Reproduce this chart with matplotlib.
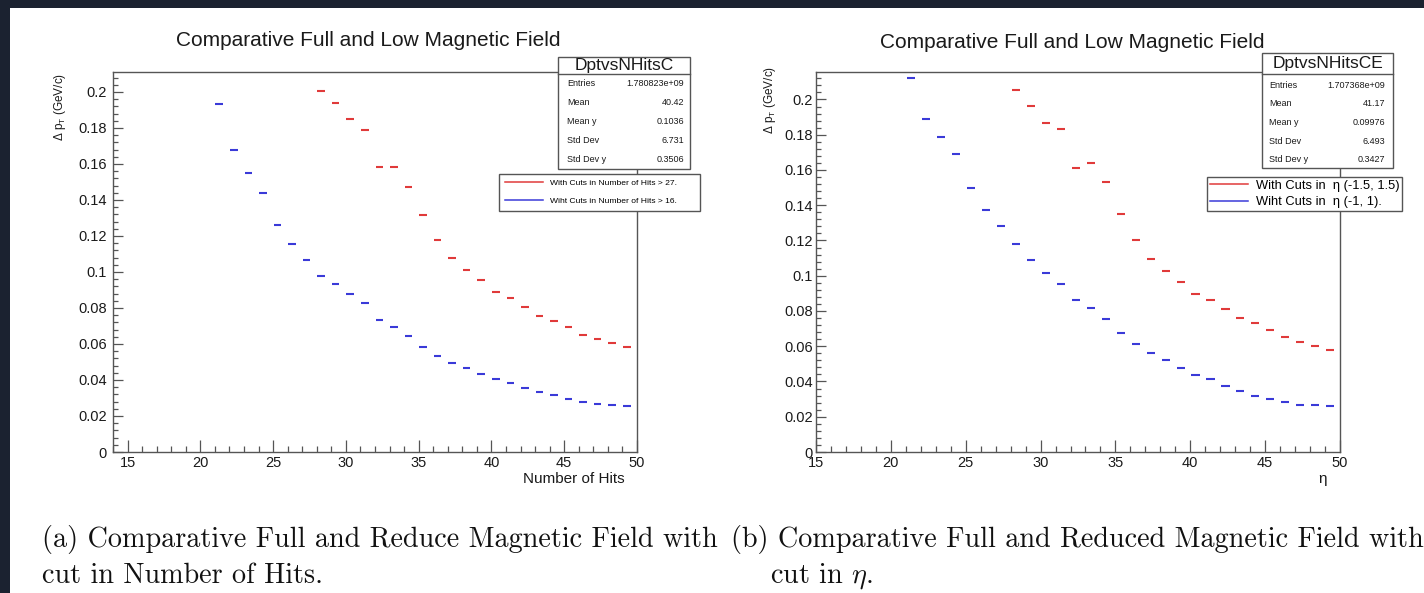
import matplotlib
matplotlib.use("Agg")
import matplotlib.pyplot as plt
from matplotlib.ticker import MultipleLocator, FormatStrFormatter
from matplotlib.patches import Rectangle
from matplotlib.lines import Line2D

# ---------------- data ----------------
# left panel: bin centres (number of hits) and mean delta pT
left_red_x = [28.3, 29.3, 30.3, 31.3, 32.3, 33.3, 34.3, 35.3, 36.3, 37.3, 38.3,
              39.3, 40.3, 41.3, 42.3, 43.3, 44.3, 45.3, 46.3, 47.3, 48.3, 49.3]
left_red_y = [0.2008, 0.1941, 0.1850, 0.1789, 0.1584, 0.1584, 0.1471, 0.1315,
              0.1180, 0.1078, 0.1011, 0.0956, 0.0891, 0.0858, 0.0806, 0.0758,
              0.0726, 0.0693, 0.0652, 0.0630, 0.0606, 0.0582]
left_blue_x = [21.3, 22.3, 23.3, 24.3, 25.3, 26.3, 27.3, 28.3, 29.3, 30.3,
               31.3, 32.3, 33.3, 34.3, 35.3, 36.3, 37.3, 38.3, 39.3, 40.3,
               41.3, 42.3, 43.3, 44.3, 45.3, 46.3, 47.3, 48.3, 49.3]
left_blue_y = [0.1935, 0.1676, 0.1548, 0.1441, 0.1259, 0.1156, 0.1067, 0.0980,
               0.0932, 0.0878, 0.0828, 0.0734, 0.0693, 0.0643, 0.0582, 0.0534,
               0.0497, 0.0465, 0.0435, 0.0406, 0.0384, 0.0358, 0.0334, 0.0317,
               0.0297, 0.0278, 0.0269, 0.0261, 0.0258]

# right panel
right_red_x = [28.35, 29.35, 30.35, 31.35, 32.35, 33.35, 34.35, 35.35, 36.35,
               37.35, 38.35, 39.35, 40.35, 41.35, 42.35, 43.35, 44.35, 45.35,
               46.35, 47.35, 48.35, 49.35]
right_red_y = [0.2056, 0.1963, 0.1864, 0.1832, 0.1610, 0.1640, 0.1530, 0.1350,
               0.1202, 0.1094, 0.1028, 0.0965, 0.0899, 0.0863, 0.0814, 0.0762,
               0.0730, 0.0690, 0.0652, 0.0624, 0.0601, 0.0578]
right_blue_x = [21.35, 22.35, 23.35, 24.35, 25.35, 26.35, 27.35, 28.35, 29.35,
                30.35, 31.35, 32.35, 33.35, 34.35, 35.35, 36.35, 37.35, 38.35,
                39.35, 40.35, 41.35, 42.35, 43.35, 44.35, 45.35, 46.35, 47.35,
                48.35, 49.35]
right_blue_y = [0.2124, 0.1889, 0.1790, 0.1692, 0.1496, 0.1371, 0.1282, 0.1178,
                0.1090, 0.1013, 0.0954, 0.0861, 0.0819, 0.0757, 0.0677, 0.0615,
                0.0561, 0.0520, 0.0476, 0.0438, 0.0412, 0.0374, 0.0347, 0.0319,
                0.0300, 0.0281, 0.0269, 0.0266, 0.0262]

left_labels = ["With Cuts in Number of Hits > 27.", "Wiht Cuts in Number of Hits > 16."]
right_labels = ["With Cuts in  \u03b7 (-1.5, 1.5)", "Wiht Cuts in  \u03b7 (-1, 1)."]

stat_names = ["Entries", "Mean", "Mean y", "Std Dev", "Std Dev y"]
left_stats = ["1.780823e+09", "40.42", "0.1036", "6.731", "0.3506"]
right_stats = ["1.707368e+09", "41.17", "0.09976", "6.493", "0.3427"]
left_hist_name = "DptvsNHitsC"
right_hist_name = "DptvsNHitsCE"

title_text = "Comparative Full and Low Magnetic Field"
ylabel_text = "\u0394 p$_\\mathregular{T}$ (GeV/c)"
left_xlabel = "Number of Hits"
right_xlabel = "\u03b7"
caption_a = ["(a) Comparative Full and Reduce Magnetic Field with", "cut in Number of Hits."]
caption_b = ["(b) Comparative Full and Reduced Magnetic Field with", "cut in $\\eta$."]

# ---------------- style ----------------
plt.rcParams['font.family'] = ['Liberation Sans', 'DejaVu Sans']
plt.rcParams['mathtext.fontset'] = 'custom'
plt.rcParams['mathtext.rm'] = 'Liberation Sans'
plt.rcParams['mathtext.it'] = 'Liberation Sans'

W, H = 1424, 593
RED = '#e03a3a'
BLUE = '#3a3ad8'
FRAME = '#555555'
CAP_SIZE = 20.3

def fx(px):
    return px / W

def fy(py):
    return 1 - py / H

fig = plt.figure(figsize=(W / 100, H / 100), dpi=100)
fig.patch.set_facecolor('white')

# dark screenshot border
fig.patches.append(Rectangle((0, fy(8)), 1, 8 / H, transform=fig.transFigure,
                             facecolor='#1b2230', edgecolor='none', zorder=0))
fig.patches.append(Rectangle((0, 0), 10 / W, 1, transform=fig.transFigure,
                             facecolor='#1b2230', edgecolor='none', zorder=0))


def setup_axes(ax, xlim, ylim, ypad):
    ax.set_xlim(*xlim)
    ax.set_ylim(*ylim)
    ax.xaxis.set_major_locator(MultipleLocator(5))
    ax.xaxis.set_minor_locator(MultipleLocator(1))
    ax.yaxis.set_major_locator(MultipleLocator(0.02))
    ax.yaxis.set_minor_locator(MultipleLocator(0.004))
    ax.yaxis.set_major_formatter(FormatStrFormatter('%g'))
    ax.tick_params(axis='both', which='both', direction='in', colors=FRAME,
                   labelcolor='#1a1a1a', top=False, right=False, width=0.9)
    ax.tick_params(axis='y', which='major', length=7.5, pad=ypad, labelsize=10.5)
    ax.tick_params(axis='y', which='minor', length=3.8)
    ax.tick_params(axis='x', which='major', length=8.5, pad=3, labelsize=10.5)
    ax.tick_params(axis='x', which='minor', length=4.3)
    for s in ax.spines.values():
        s.set_color(FRAME)
        s.set_linewidth(1.0)


def draw_stats(x0, y0, x1, y1, yhead, name, values, row0, step, xname, xval):
    fig.patches.append(Rectangle((fx(x0), fy(y1)), (x1 - x0) / W, (y1 - y0) / H,
                                 transform=fig.transFigure, facecolor='white',
                                 edgecolor=FRAME, linewidth=1.0, zorder=5))
    fig.lines.append(Line2D([fx(x0), fx(x1)], [fy(yhead), fy(yhead)],
                            transform=fig.transFigure, color=FRAME, lw=1.0, zorder=6))
    fig.text(fx((x0 + x1) / 2), fy((y0 + yhead) / 2), name, ha='center', va='center',
             fontsize=12.5, color='#1a1a1a', zorder=7)
    for i, (n, v) in enumerate(zip(stat_names, values)):
        yy = fy(row0 + i * step)
        fig.text(fx(xname), yy, n, ha='left', va='center', fontsize=6.5,
                 color='#1a1a1a', zorder=7)
        fig.text(fx(xval), yy, v, ha='right', va='center', fontsize=6.5,
                 color='#1a1a1a', zorder=7)


# ---------------- left panel ----------------
axL = fig.add_axes([fx(113), fy(452), (637 - 113) / W, (452 - 72) / H])
setup_axes(axL, (14, 50), (0, 0.2111), 4.3)
axL.errorbar(left_red_x, left_red_y, xerr=0.26, fmt='none', ecolor=RED,
             elinewidth=1.5, capsize=0)
axL.errorbar(left_blue_x, left_blue_y, xerr=0.26, fmt='none', ecolor=BLUE,
             elinewidth=1.5, capsize=0)
handlesL = [Line2D([], [], color=RED, lw=1.1), Line2D([], [], color=BLUE, lw=1.1)]
legL = axL.legend(handlesL, left_labels, loc='upper left',
                  bbox_to_anchor=(fx(499), fy(211), 201 / W, 37 / H),
                  bbox_transform=fig.transFigure, mode='expand', borderaxespad=0,
                  fontsize=6.1, handlelength=4.6, handletextpad=0.8,
                  labelspacing=1.15, borderpad=0.65, fancybox=False,
                  edgecolor=FRAME, framealpha=1)
legL.get_frame().set_linewidth(1.0)
draw_stats(558, 57, 690, 169, 74, left_hist_name, left_stats, 84, 18.9, 567, 684)

fig.text(fx(368), fy(41), title_text, ha='center', va='center', fontsize=15,
         color='#1a1a1a')
fig.text(fx(60), fy(73), ylabel_text, rotation=90, ha='center', va='top',
         fontsize=8.5, color='#1a1a1a')
fig.text(fx(625), fy(479), left_xlabel, ha='right', va='center', fontsize=11,
         color='#1a1a1a')

# ---------------- right panel ----------------
axR = fig.add_axes([fx(816), fy(452), (1340 - 816) / W, (452 - 72) / H])
setup_axes(axR, (15, 50), (0, 0.2156), 2.2)
axR.errorbar(right_red_x, right_red_y, xerr=0.27, fmt='none', ecolor=RED,
             elinewidth=1.5, capsize=0)
axR.errorbar(right_blue_x, right_blue_y, xerr=0.27, fmt='none', ecolor=BLUE,
             elinewidth=1.5, capsize=0)
handlesR = [Line2D([], [], color=RED, lw=1.1), Line2D([], [], color=BLUE, lw=1.1)]
legR = axR.legend(handlesR, right_labels, loc='upper left',
                  bbox_to_anchor=(fx(1207), fy(213), 195 / W, 36 / H),
                  bbox_transform=fig.transFigure, mode='expand', borderaxespad=0,
                  fontsize=9.3, handlelength=3.0, handletextpad=0.6,
                  labelspacing=0.35, borderpad=0.2, fancybox=False,
                  edgecolor=FRAME, framealpha=1)
legR.get_frame().set_linewidth(1.0)
draw_stats(1262, 53, 1393, 168, 74, right_hist_name, right_stats, 85, 18.75, 1269, 1385)

fig.text(fx(1072), fy(42), title_text, ha='center', va='center', fontsize=15,
         color='#1a1a1a')
fig.text(fx(770), fy(66), ylabel_text, rotation=90, ha='center', va='top',
         fontsize=8.5, color='#1a1a1a')
fig.text(fx(1323), fy(479), right_xlabel, ha='center', va='center', fontsize=11,
         color='#1a1a1a')

# ---------------- captions ----------------
fig.text(fx(42), fy(547), caption_a[0], family='cmr10', fontsize=CAP_SIZE,
         va='baseline', ha='left', color='#111111')
fig.text(fx(42), fy(583), caption_a[1], family='cmr10', fontsize=CAP_SIZE,
         va='baseline', ha='left', color='#111111')
fig.text(fx(731), fy(547), caption_b[0], family='cmr10', fontsize=CAP_SIZE,
         va='baseline', ha='left', color='#111111')
fig.text(fx(770), fy(583), caption_b[1], family='cmr10', fontsize=CAP_SIZE,
         va='baseline', ha='left', color='#111111', math_fontfamily='cm')

fig.savefig('out.png', dpi=100, facecolor='white')
